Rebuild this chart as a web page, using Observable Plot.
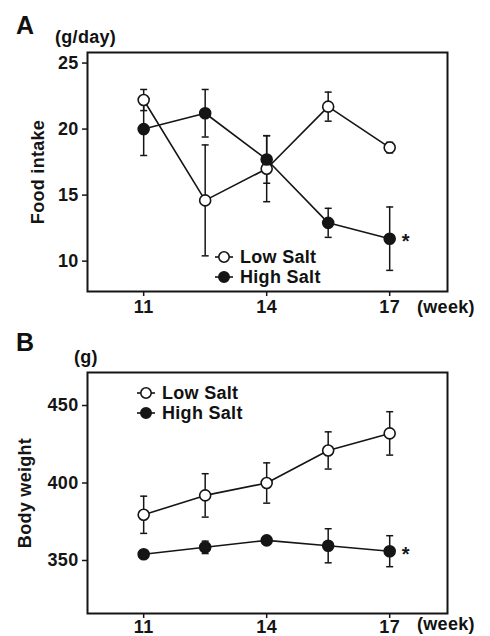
<!DOCTYPE html>
<html><head><meta charset="utf-8">
<script src="https://cdn.jsdelivr.net/npm/d3@7"></script>
<script src="https://cdn.jsdelivr.net/npm/@observablehq/plot@0.6"></script>
<style>
body{margin:0;background:#fff;}
#wrap{position:relative;width:490px;height:636px;overflow:hidden;font-family:"Liberation Sans",Arial,sans-serif;font-weight:bold;color:#111;}
.abs{position:absolute;white-space:nowrap;line-height:1;letter-spacing:0.3px;}
.panel{position:absolute;left:0;}
.panel text{letter-spacing:0.3px;}
</style></head><body><div id="wrap"></div>
<script>
// ---- data ----
const weeks = [11, 12.5, 14, 15.5, 17];
const xTicks = [11, 14, 17];
const seriesNames = ["Low Salt", "High Salt"];

const foodLow = [22.2, 14.6, 17.0, 21.7, 18.6];
const foodLowErr = [0.8, 4.2, 2.5, 1.1, 0.4];
const foodHigh = [20.0, 21.2, 17.7, 12.9, 11.7];
const foodHighErr = [2.0, 1.8, 1.8, 1.1, 2.4];
const foodTicks = [10, 15, 20, 25];

const bwLow = [379.5, 392, 400, 421, 432];
const bwLowErr = [12, 14, 13, 12, 14];
const bwHigh = [354, 358.5, 363, 359.5, 356];
const bwHighErr = [2, 4, 2.5, 11, 10];
const bwTicks = [350, 400, 450];

function rows(low, lowErr, high, highErr) {
  return weeks.flatMap((w, i) => [
    {week: w, group: seriesNames[0], v: low[i], e: lowErr[i]},
    {week: w, group: seriesNames[1], v: high[i], e: highErr[i]}
  ]);
}

const INK = "#151515";
const capSymbol = {draw(ctx) { ctx.moveTo(-3.5, 0); ctx.lineTo(3.5, 0); }};

function panel({data, yDomain, yTicks, yLabel, height, marginTop, marginBottom, labelOffset, xPad}) {
  const low = data.filter(d => d.group === seriesNames[0]);
  const high = data.filter(d => d.group === seriesNames[1]);
  return Plot.plot({
    width: 490, height, marginLeft: 87, marginRight: 43, marginTop, marginBottom,
    style: {fontFamily: '"Liberation Sans", Arial, sans-serif', fontSize: "18px", fontWeight: "bold", color: INK, background: "transparent", overflow: "visible"},
    x: {domain: [9.63, 18.41]},
    y: {domain: yDomain},
    marks: [
      Plot.axisX({ticks: xTicks, tickSize: 5, tickPadding: xPad, label: null, tickFormat: d => String(d), strokeWidth: 1.5}),
      Plot.axisY({ticks: yTicks, tickSize: 5, tickPadding: 4, label: yLabel, labelAnchor: "center", labelArrow: "none", labelOffset, strokeWidth: 1.5}),
      Plot.frame({stroke: INK, strokeWidth: 2}),
      Plot.ruleX(data, {x: "week", y1: d => d.v - d.e, y2: d => d.v + d.e, stroke: INK, strokeWidth: 1.5}),
      Plot.dot(data, {x: "week", y: d => d.v - d.e, symbol: capSymbol, fill: "none", stroke: INK, strokeWidth: 1.5}),
      Plot.dot(data, {x: "week", y: d => d.v + d.e, symbol: capSymbol, fill: "none", stroke: INK, strokeWidth: 1.5}),
      Plot.line(data, {x: "week", y: "v", z: "group", stroke: INK, strokeWidth: 1.6}),
      Plot.dot(low, {x: "week", y: "v", r: 5.5, fill: "#fff", stroke: INK, strokeWidth: 1.6}),
      Plot.dot(high, {x: "week", y: "v", r: 5.5, fill: INK, stroke: INK, strokeWidth: 1.6}),
      Plot.text(high.slice(-1), {x: "week", y: "v", text: () => "*", dx: 16, dy: 3, fontSize: 20, fill: INK})
    ]
  });
}

const wrap = document.getElementById("wrap");
function place(node, top) {
  node.classList.add("panel");
  node.style.top = top + "px";
  wrap.appendChild(node);
}
function text(str, left, top, size) {
  const s = document.createElement("div");
  s.className = "abs";
  s.textContent = str;
  s.style.left = left + "px";
  s.style.top = top + "px";
  s.style.fontSize = size + "px";
  wrap.appendChild(s);
}
function legendRow(label, filled, symLeft, textLeft, centerY) {
  const ns = "http://www.w3.org/2000/svg";
  const svg = document.createElementNS(ns, "svg");
  svg.setAttribute("width", 22); svg.setAttribute("height", 14);
  svg.style.position = "absolute";
  svg.style.left = symLeft + "px";
  svg.style.top = (centerY - 7) + "px";
  const ln = document.createElementNS(ns, "line");
  ln.setAttribute("x1", 1); ln.setAttribute("x2", 19); ln.setAttribute("y1", 7); ln.setAttribute("y2", 7);
  ln.setAttribute("stroke", INK); ln.setAttribute("stroke-width", 1.6);
  const c = document.createElementNS(ns, "circle");
  c.setAttribute("cx", 10); c.setAttribute("cy", 7); c.setAttribute("r", 5.2);
  c.setAttribute("fill", filled ? INK : "#fff"); c.setAttribute("stroke", INK); c.setAttribute("stroke-width", 1.6);
  svg.appendChild(ln); svg.appendChild(c);
  wrap.appendChild(svg);
  text(label, textLeft, centerY - 9, 18);
}

place(panel({
  data: rows(foodLow, foodLowErr, foodHigh, foodHighErr),
  yDomain: [7.7, 25.8], yTicks: foodTicks, yLabel: "Food intake",
  height: 320, marginTop: 52, marginBottom: 29, labelOffset: 56, xPad: 4
}), 0);

place(panel({
  data: rows(bwLow, bwLowErr, bwHigh, bwHighErr),
  yDomain: [315.8, 471.3], yTicks: bwTicks, yLabel: "Body weight",
  height: 316, marginTop: 52, marginBottom: 23, labelOffset: 69, xPad: 2
}), 320);

text("A", 16, 13, 25);
text("(g/day)", 55, 28, 18);
text("(week)", 417, 298, 18);
legendRow(seriesNames[0], false, 214, 240, 257);
legendRow(seriesNames[1], true, 214, 240, 277);

text("B", 16, 330, 25);
text("(g)", 74, 348, 18);
text("(week)", 417, 615, 18);
legendRow(seriesNames[0], false, 136, 162, 393);
legendRow(seriesNames[1], true, 136, 162, 413);
</script></body></html>
